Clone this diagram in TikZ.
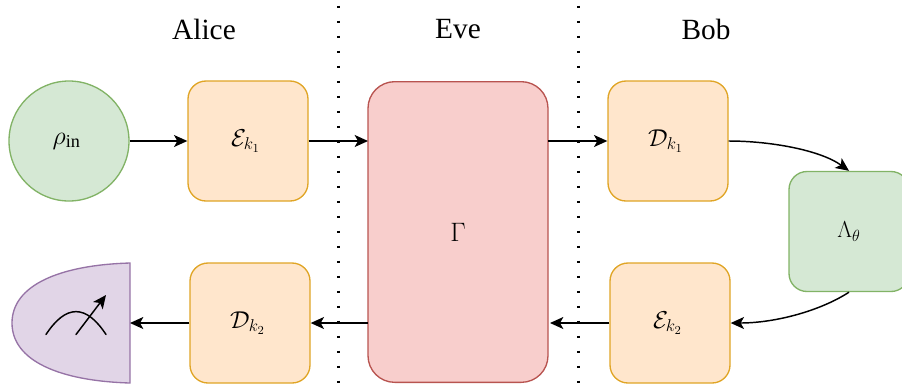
\RequirePackage{fix-cm}
\documentclass[tikz,border=0pt]{standalone}
\usepackage{fontspec}
\setmainfont{Liberation Serif}
\usetikzlibrary{arrows.meta}
\definecolor{grfill}{HTML}{D5E8D4}\definecolor{grline}{HTML}{82B366}
\definecolor{orfill}{HTML}{FFE6CC}\definecolor{orline}{HTML}{E0A526}
\definecolor{rdfill}{HTML}{F8CECC}\definecolor{rdline}{HTML}{B85450}
\definecolor{pufill}{HTML}{E1D5E7}\definecolor{puline}{HTML}{9673A6}
\tikzset{
  x=0.75pt,y=-0.75pt,
  boxbase/.style={draw,line width=1pt,rounded corners=13.5pt,minimum width=90pt,minimum height=90pt,inner sep=0pt,font=\fontsize{18.3pt}{22pt}\selectfont},
  orbox/.style={boxbase,fill=orfill,draw=orline},
  grbox/.style={boxbase,fill=grfill,draw=grline,font=\fontsize{17.3pt}{20pt}\selectfont},
  label/.style={font=\fontsize{22pt}{26pt}\selectfont,inner sep=0pt},
  conn/.style={line width=1.1pt,-{Stealth[length=10pt,width=9pt,inset=2.5pt]}},
  sep/.style={line width=2.2pt,dash pattern=on 2.2pt off 9.05pt},
}
\begin{document}
\begin{tikzpicture}
\useasboundingbox (0,0) rectangle (902,387);
\node[label] (alice) at (204,29) {Alice};
\node[label] (eve) at (458,29) {Eve};
\node[label] (bob) at (706,29) {Bob};
\node[boxbase,circle,fill=grfill,draw=grline,minimum size=90pt,font=\fontsize{19.5pt}{22pt}\selectfont] (rho) at (69,141) {$\rho_{\mathrm{in}}$\kern3.5pt};
\node[orbox] (e1) at (248,141) {$\mathcal{E}_{k_1}$\kern3.5pt};
\node[boxbase,fill=rdfill,draw=rdline,minimum width=135pt,minimum height=225.5pt,rounded corners=20pt,font=\fontsize{20pt}{24pt}\selectfont] (g) at (458,232) {$\Gamma$};
\node[orbox] (d1) at (668,141) {$\mathcal{D}_{k_1}$\kern3.5pt};
\node[grbox] (l) at (849,231.5) {$\Lambda_\theta$};
\node[orbox] (e2) at (670,323) {$\mathcal{E}_{k_2}$\kern3.5pt};
\node[orbox] (d2) at (250,323) {$\mathcal{D}_{k_2}$\kern3.5pt};
\coordinate (det) at (130,323);
\coordinate (gw) at (368,141);
\coordinate (ge) at (548,141);
\coordinate (gsw) at (368,323);
\coordinate (gse) at (550,323);
\draw[fill=pufill,draw=puline,line width=1pt] (130,263) .. controls (60,265) and (12,285) .. (12,323) .. controls (12,361) and (60,381) .. (130,383) -- cycle;
\draw[line width=1.1pt,line cap=round] (46,334.5) .. controls (66,304) and (86,304) .. (106,334.5);
\draw[line width=1.1pt,line cap=round,-{Stealth[length=10pt,width=9pt,inset=2.5pt]}] (76,334.5) -- (106,295);
\draw[conn] (rho) -- (e1);
\draw[conn] (e1) -- (gw);
\draw[conn] (ge) -- (d1);
\draw[conn] (e2) -- (gse);
\draw[conn] (gsw) -- (d2);
\draw[conn] (d2) -- (det);
\draw[conn] (d1.east) .. controls (770,141) and (820,150) .. (l.north);
\draw[conn] (l.south) .. controls (820,311) and (775,323) .. (e2.east);
\coordinate (s1t) at (338.5,5.5); \coordinate (s1b) at (338.5,387);
\coordinate (s2t) at (578.5,5.5); \coordinate (s2b) at (578.5,387);
\draw[sep] (s1t) -- (s1b);
\draw[sep] (s2t) -- (s2b);
\end{tikzpicture}
\end{document}
